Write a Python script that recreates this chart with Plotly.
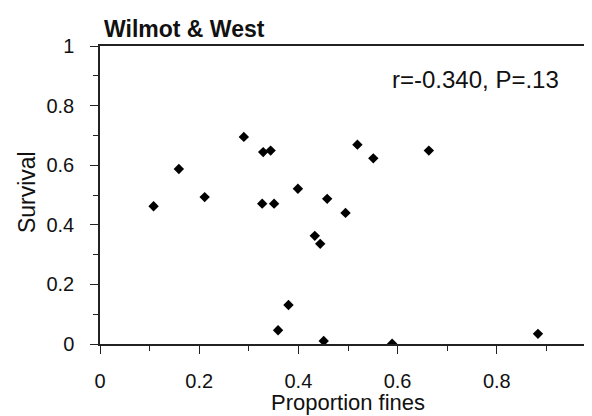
import plotly.graph_objects as go

# Data
proportion_fines = [0.108, 0.159, 0.211, 0.290, 0.327, 0.329, 0.344, 0.351, 0.359, 0.380,
                    0.399, 0.433, 0.444, 0.451, 0.458, 0.495, 0.519, 0.551, 0.589, 0.663, 0.883]
survival = [0.462, 0.587, 0.493, 0.695, 0.471, 0.644, 0.649, 0.471, 0.046, 0.131,
            0.521, 0.363, 0.336, 0.010, 0.487, 0.440, 0.669, 0.623, 0.001, 0.649, 0.034]
tick_vals = [0, 0.2, 0.4, 0.6, 0.8, 1]
tick_text = ["0", "0.2", "0.4", "0.6", "0.8", "1"]

FONT = "Arial, Liberation Sans, sans-serif"

fig = go.Figure(go.Scatter(
    x=proportion_fines, y=survival, mode="markers",
    marker=dict(symbol="diamond", size=8, color="black"),
    showlegend=False,
))

axis_common = dict(
    range=[0, 1], tickvals=tick_vals, ticktext=tick_text,
    showline=True, linecolor="#222", linewidth=1.5, mirror=True,
    ticks="outside", ticklen=8, tickwidth=1.2, tickcolor="#222",
    showgrid=False, zeroline=False, automargin=False,
    ticklabeloverflow="allow",
    tickfont=dict(family=FONT, size=20, color="#111"),
    minor=dict(ticks="outside", ticklen=5, dtick=0.1, tickwidth=1, tickcolor="#222", showgrid=False),
)

fig.update_xaxes(**axis_common, ticklabelstandoff=10)
fig.update_yaxes(**axis_common, ticklabelstandoff=12)

fig.add_annotation(text="r=-0.340, P=.13", x=0.758, y=0.886, xref="x", yref="y",
                   showarrow=False, xanchor="center", yanchor="middle",
                   font=dict(family=FONT, size=24, color="#111"))
fig.add_annotation(text="<b>Wilmot & West</b>", x=0.004, y=1.057, xref="paper", yref="paper",
                   showarrow=False, xanchor="left", yanchor="middle",
                   font=dict(family=FONT, size=23, color="#111"))
fig.add_annotation(text="Proportion fines", x=0.5, y=-0.197, xref="paper", yref="paper",
                   showarrow=False, xanchor="center", yanchor="middle",
                   font=dict(family=FONT, size=22, color="#111"))
fig.add_annotation(text="Survival", x=-0.147, y=0.51, xref="paper", yref="paper",
                   showarrow=False, xanchor="center", yanchor="middle", textangle=-90,
                   font=dict(family=FONT, size=23, color="#111"))

fig.update_layout(
    width=592, height=416,
    margin=dict(l=92, r=4, t=38, b=80),
    paper_bgcolor="white", plot_bgcolor="white",
)

fig.write_html("out.html")
